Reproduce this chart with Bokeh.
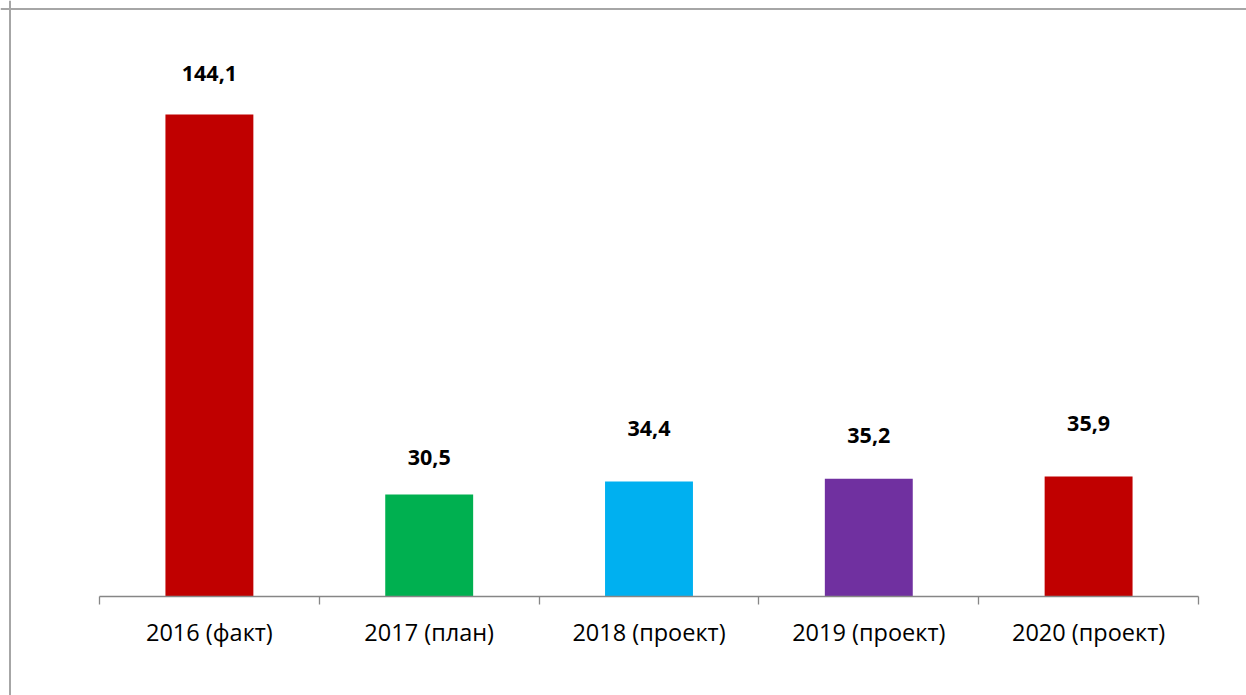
from bokeh.plotting import figure
from bokeh.models import ColumnDataSource, Range1d, FixedTicker, Span
from bokeh.core.properties import value
from bokeh.embed import file_html
from bokeh.resources import INLINE

# ---- data ----
categories = ["2016 (факт)", "2017 (план)", "2018 (проект)", "2019 (проект)", "2020 (проект)"]
values = [144.1, 30.5, 34.4, 35.2, 35.9]
value_labels = ["144,1", "30,5", "34,4", "35,2", "35,9"]
bar_colors = ["#C00000", "#00B050", "#00B0F0", "#7030A0", "#C00000"]

# label lift above bar top (screen px, styling)
label_lift = [40.5, 36.5, 52.5, 43.5, 52.5]

W, H = 1246, 695
# layout of the plot inside the canvas (px)
axis_y_px = 596          # axis line from top
cat_left_px, cat_right_px = 99, 1198
px_per_unit_y = 3.345

n = len(categories)
xs = list(range(1, n + 1))
px_per_cat = (cat_right_px - cat_left_px) / n
x0 = 0.5 - cat_left_px / px_per_cat
x1 = 0.5 + (W - cat_left_px) / px_per_cat
y1 = axis_y_px / px_per_unit_y
y0 = -(H - axis_y_px) / px_per_unit_y

src = ColumnDataSource(dict(
    x=xs, top=values, color=bar_colors, lab=value_labels,
    yoff=[-v for v in label_lift],
))

p = figure(width=W, height=H, output_backend="svg", toolbar_location=None,
           x_range=Range1d(x0, x1), y_range=Range1d(y0, y1),
           min_border=0, min_border_left=0, min_border_right=0,
           min_border_top=0, min_border_bottom=0)
p.outline_line_color = None
p.background_fill_color = "white"
p.border_fill_color = "white"
p.xgrid.visible = False
p.ygrid.visible = False
p.yaxis.visible = False

# chart-area frame: left and top edges (screen y measured from bottom)
p.add_layout(Span(location=9.5, dimension="height", location_units="screen",
                  line_color="#a6a6a6", line_width=2))
p.add_layout(Span(location=H - 8.5, dimension="width", location_units="screen",
                  line_color="#a6a6a6", line_width=2))

p.vbar(x="x", top="top", width=0.4, bottom=0, color="color", line_color=None, source=src)
p.text(x="x", y="top", text="lab", y_offset="yoff", source=src,
       text_align="center", text_baseline="middle",
       text_font=value("Open Sans"), text_font_style="bold",
       text_font_size="21.5px", text_color="#000000")

ax = p.xaxis[0]
ax.fixed_location = 0
ax.bounds = (0.5, n + 0.5)
ax.ticker = FixedTicker(ticks=xs, minor_ticks=[x - 0.5 for x in xs] + [xs[-1] + 0.5])
ax.major_label_overrides = {x: c for x, c in zip(xs, categories)}
ax.major_tick_out = 0
ax.major_tick_in = 0
ax.minor_tick_out = 8
ax.minor_tick_in = 0
ax.axis_line_color = "#868686"
ax.axis_line_width = 1.3
ax.minor_tick_line_color = "#868686"
ax.minor_tick_line_width = 1.3
ax.major_label_text_font = "Open Sans"
ax.major_label_text_font_size = "23.5px"
ax.major_label_text_color = "#000000"
ax.major_label_standoff = 11

open("out.html", "w").write(file_html(p, INLINE))
